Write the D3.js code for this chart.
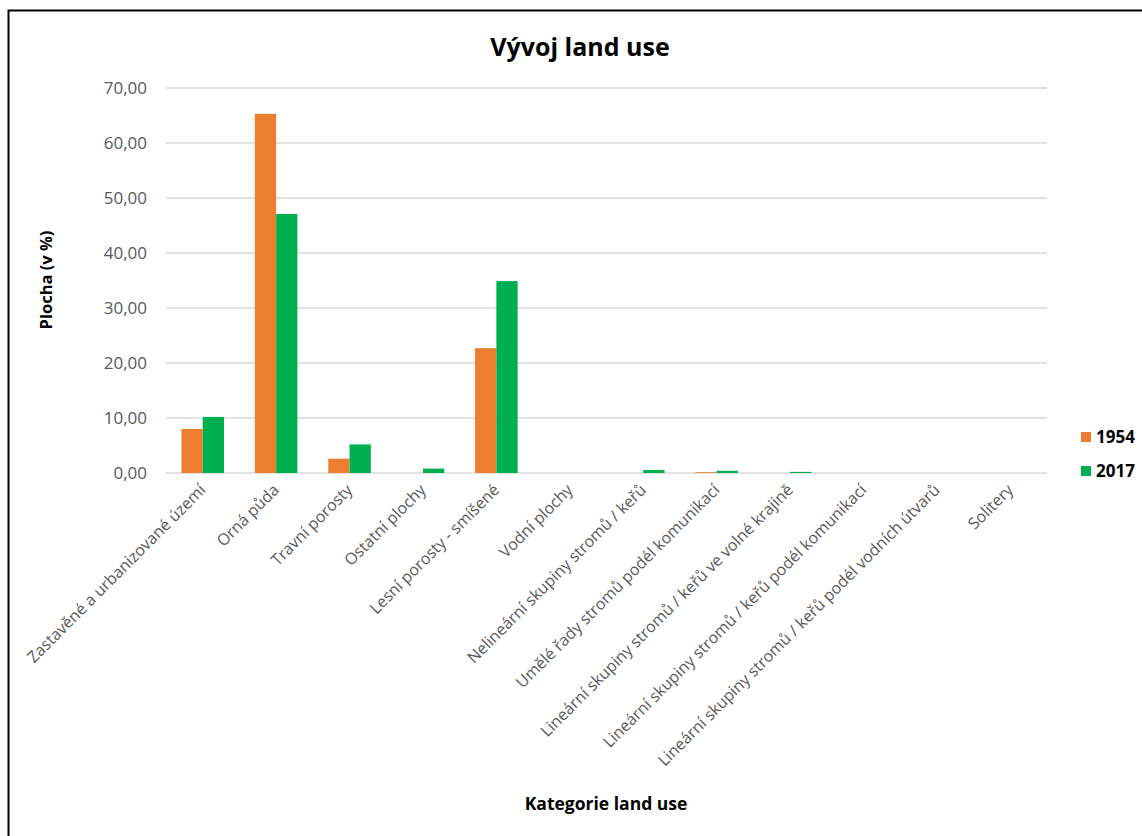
<!DOCTYPE html>
<html>
<head>
<meta charset="utf-8">
<script src="https://cdn.jsdelivr.net/npm/d3@7"></script>
<style>
  body { margin: 0; background: #fff; }
  text { font-family: "Open Sans", "Noto Sans", sans-serif; }
</style>
</head>
<body>
<script>
var categories = ["Zastavěné a urbanizované území", "Orná půda", "Travní porosty", "Ostatní plochy",
  "Lesní porosty - smíšené", "Vodní plochy", "Nelineární skupiny stromů / keřů",
  "Umělé řady stromů podél komunikací", "Lineární skupiny stromů / keřů ve volné krajině",
  "Lineární skupiny stromů / keřů podél komunikací", "Lineární skupiny stromů / keřů podél vodních útvarů",
  "Solitery"];
var years = ["1954", "2017"];
var values1954 = [8.0, 65.3, 2.6, 0, 22.7, 0, 0, 0.15, 0, 0, 0, 0];
var values2017 = [10.2, 47.1, 5.2, 0.8, 34.9, 0, 0.55, 0.4, 0.2, 0, 0, 0];
var yTicks = [0, 10, 20, 30, 40, 50, 60, 70];
var colors = ["#ED7D31", "#00B050"];

var width = 1142, height = 836;
var margin = {left: 166, right: 95, top: 88, bottom: 363};

var svg = d3.select("body").append("svg").attr("width", width).attr("height", height);

svg.append("rect").attr("x", 8.5).attr("y", 10.5).attr("width", 1140).attr("height", 830)
  .attr("fill", "none").attr("stroke", "#000").attr("stroke-width", 2);

var x = d3.scaleBand().domain(categories).range([margin.left, width - margin.right]).paddingInner(0.42).paddingOuter(0.21);
var x1 = d3.scaleBand().domain(years).range([0, x.bandwidth()]);
var y = d3.scaleLinear().domain([0, 70]).range([height - margin.bottom, margin.top]);

// grid
svg.append("g").selectAll("line").data(yTicks).enter().append("line")
  .attr("x1", margin.left).attr("x2", width - margin.right)
  .attr("y1", function(d){ return y(d); }).attr("y2", function(d){ return y(d); })
  .attr("stroke", "#d9d9d9").attr("stroke-width", 1.3);

var yAxis = d3.axisLeft(y).tickValues(yTicks).tickSize(0).tickPadding(19)
  .tickFormat(function(d){ return d3.format(".2f")(d).replace(".", ","); });
var gy = svg.append("g").attr("transform", "translate(" + margin.left + ",0)").call(yAxis);
gy.select(".domain").remove();
gy.selectAll("text").attr("font-size", 17).attr("fill", "#595959");

// bars
var series = [values1954, values2017];
series.forEach(function(vals, s) {
  svg.append("g").selectAll("rect").data(vals).enter().append("rect")
    .attr("x", function(d, i){ return x(categories[i]) + x1(years[s]); })
    .attr("y", function(d){ return y(d); })
    .attr("width", x1.bandwidth())
    .attr("height", function(d){ return y(0) - y(d); })
    .attr("fill", colors[s]);
});

// x axis labels
var xAxis = d3.axisBottom(x).tickSize(0).tickPadding(0);
var gx = svg.append("g").attr("transform", "translate(0," + (y(0) + 14) + ")").call(xAxis);
gx.select(".domain").remove();
gx.selectAll("text")
  .attr("font-size", 16).attr("fill", "#595959")
  .attr("text-anchor", "end").attr("dy", "0.35em").attr("y", 0)
  .attr("transform", "rotate(-45)");

// titles
svg.append("text").attr("x", 580).attr("y", 56).attr("text-anchor", "middle")
  .attr("font-size", 25).attr("font-weight", "bold").attr("fill", "#000").text("Vývoj land use");
svg.append("text").attr("transform", "translate(52,280) rotate(-90)").attr("text-anchor", "middle")
  .attr("font-size", 16.5).attr("font-weight", "bold").attr("fill", "#000").text("Plocha (v %)");
svg.append("text").attr("x", 606).attr("y", 810).attr("text-anchor", "middle")
  .attr("font-size", 17.5).attr("font-weight", "bold").attr("fill", "#000").text("Kategorie land use");

// legend
var legend = svg.append("g").selectAll("g").data(years).enter().append("g")
  .attr("transform", function(d, i){ return "translate(1081," + (437 + i * 34) + ")"; });
legend.append("rect").attr("x", 0).attr("y", -5).attr("width", 10).attr("height", 10)
  .attr("fill", function(d, i){ return colors[i]; });
legend.append("text").attr("x", 15).attr("y", 0).attr("dy", "0.35em")
  .attr("font-size", 17).attr("font-weight", "bold").attr("fill", "#000").text(function(d){ return d; });
</script>
</body>
</html>
